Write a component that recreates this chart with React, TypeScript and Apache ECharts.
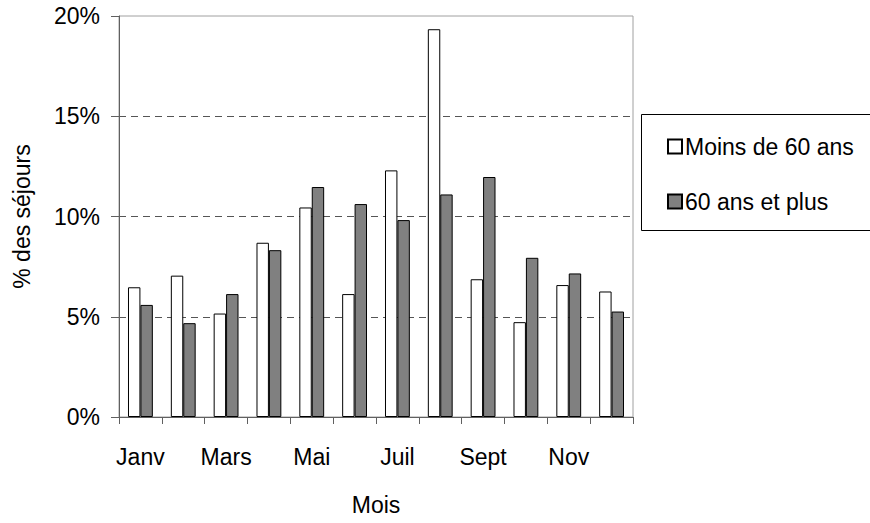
import React, { useEffect, useRef } from "react";
import * as echarts from "echarts";

const months = ["Janv", "Févr", "Mars", "Avr", "Mai", "Juin", "Juil", "Août", "Sept", "Oct", "Nov", "Déc"];
const moins60 = [6.47, 7.05, 5.16, 8.69, 10.45, 6.13, 12.3, 19.34, 6.87, 4.73, 6.58, 6.26];
const plus60 = [5.59, 4.68, 6.13, 8.32, 11.47, 10.62, 9.82, 11.1, 11.97, 7.94, 7.16, 5.26];
const seriesNames = ["Moins de 60 ans", "60 ans et plus"];
const yTicks = { min: 0, max: 20, interval: 5 };

const FONT = "'Liberation Sans', Arial, sans-serif";
const FS = 23;

export default function App() {
  const ref = useRef<HTMLDivElement>(null);
  useEffect(() => {
    if (!ref.current) return;
    const chart = echarts.init(ref.current, null, { renderer: "svg" });
    chart.setOption({
      animation: false,
      backgroundColor: "#ffffff",
      textStyle: { fontFamily: FONT, color: "#000" },
      grid: {
        left: 119,
        top: 16,
        right: 237,
        bottom: 106,
        show: true,
        borderColor: "#a0a0a0",
        borderWidth: 1,
        containLabel: false,
      },
      graphic: [
        {
          type: "rect",
          left: 641,
          top: 114,
          shape: { width: 240, height: 116 },
          style: { fill: "#fff", stroke: "#000", lineWidth: 1 },
          z: 1,
        },
      ],
      legend: {
        orient: "vertical",
        left: 662,
        top: 130,
        itemWidth: 14,
        itemHeight: 14,
        itemGap: 32,
        icon: "rect",
        z: 5,
        textStyle: { fontSize: FS, fontFamily: FONT, color: "#000", padding: [0, 0, 0, -2] },
        data: seriesNames,
      },
      xAxis: {
        type: "category",
        data: months,
        name: "Mois",
        nameLocation: "middle",
        nameGap: 76,
        nameTextStyle: { fontSize: FS, fontFamily: FONT, color: "#000" },
        axisLine: { lineStyle: { color: "#606060", width: 1 } },
        axisTick: { show: true, interval: 0, length: 7, lineStyle: { color: "#606060" } },
        axisLabel: { interval: 1, margin: 28, fontSize: FS, fontFamily: FONT, color: "#000" },
      },
      yAxis: {
        type: "value",
        min: yTicks.min,
        max: yTicks.max,
        interval: yTicks.interval,
        name: "% des séjours",
        nameLocation: "middle",
        nameRotate: 90,
        nameGap: 86,
        nameTextStyle: { fontSize: FS, fontFamily: FONT, color: "#000" },
        axisLine: { show: true, lineStyle: { color: "#606060", width: 1 } },
        axisTick: { show: true, length: 8, lineStyle: { color: "#606060" } },
        axisLabel: { formatter: "{value}%", margin: 19, fontSize: FS, fontFamily: FONT, color: "#000" },
        splitLine: {
          show: true,
          showMinLine: false,
          showMaxLine: false,
          lineStyle: { color: "#555", type: [7, 5], width: 1 },
        },
      },
      series: [
        {
          name: seriesNames[0],
          type: "bar",
          data: moins60,
          barGap: "0%",
          barCategoryGap: "42%",
          itemStyle: { color: "#ffffff", borderColor: "#000", borderWidth: 1 },
        },
        {
          name: seriesNames[1],
          type: "bar",
          data: plus60,
          itemStyle: { color: "#808080", borderColor: "#000", borderWidth: 1 },
        },
      ],
    });
    return () => chart.dispose();
  }, []);
  return (
    <div
      ref={ref}
      style={{ position: "fixed", left: 0, top: 0, width: 870, height: 523, background: "#fff" }}
    />
  );
}
